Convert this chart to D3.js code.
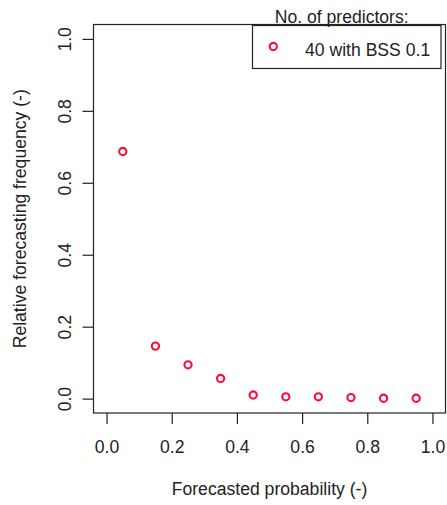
<!DOCTYPE html>
<html>
<head>
<meta charset="utf-8">
<script src="https://cdn.jsdelivr.net/npm/d3@7"></script>
<style>
html,body{margin:0;padding:0;background:#fff;}
svg text{font-family:"Liberation Sans",Arial,Helvetica,sans-serif;fill:#222;}
</style>
</head>
<body>
<svg id="chart" width="447" height="505"></svg>
<script>
// Data
const probabilities = [0.05, 0.15, 0.25, 0.35, 0.45, 0.55, 0.65, 0.75, 0.85, 0.95];
const frequencies  = [0.687, 0.146, 0.094, 0.056, 0.010, 0.005, 0.005, 0.003, 0.001, 0.001];
const xTicks = [0, 0.2, 0.4, 0.6, 0.8, 1.0];
const yTicks = [0, 0.2, 0.4, 0.6, 0.8, 1.0];
const seriesLabel = "40 with BSS 0.1";
const legendTitle = "No. of predictors:";
const xTitle = "Forecasted probability (-)";
const yTitle = "Relative forecasting frequency (-)";

const svg = d3.select("#chart");
const box = {left: 93.5, right: 445.5, top: 24.5, bottom: 413};
const fs = 17.6;
const col = "#ff0a3a";
const ink = "#222";

const x = d3.scaleLinear().domain([-0.04, 1.04]).range([box.left, box.right]);
const y = d3.scaleLinear().domain([-0.04, 1.04]).range([box.bottom, box.top]);

// Axes (R-like: ticks outward, labels)
const xAxis = d3.axisBottom(x).tickValues(xTicks).tickFormat(d3.format(".1f")).tickSizeOuter(0).tickSizeInner(11).tickPadding(15);
const gx = svg.append("g").attr("transform", `translate(0,${box.bottom})`).call(xAxis);
gx.select(".domain").remove();
gx.selectAll(".tick line").attr("stroke", ink).attr("stroke-width", 1.2);
gx.selectAll(".tick text").attr("font-size", fs).attr("fill", ink).attr("dy", null).attr("y", 40);

const yAxis = d3.axisLeft(y).tickValues(yTicks).tickFormat(d3.format(".1f")).tickSizeOuter(0).tickSizeInner(11);
const gy = svg.append("g").attr("transform", `translate(${box.left},0)`).call(yAxis);
gy.select(".domain").remove();
gy.selectAll(".tick line").attr("stroke", ink).attr("stroke-width", 1.2);
gy.selectAll(".tick text")
  .attr("font-size", fs).attr("fill", ink)
  .attr("x", null).attr("dy", null)
  .attr("text-anchor", "middle")
  .attr("transform", `translate(${71 - box.left},0) rotate(-90)`);

// Plot box
svg.append("rect")
  .attr("x", box.left).attr("y", box.top)
  .attr("width", box.right - box.left).attr("height", box.bottom - box.top)
  .attr("fill", "none").attr("stroke", ink).attr("stroke-width", 1.2);

// Points
svg.append("g").selectAll("circle")
  .data(probabilities.map((p, i) => ({p, f: frequencies[i]})))
  .join("circle")
  .attr("cx", d => x(d.p)).attr("cy", d => y(d.f))
  .attr("r", 3.6).attr("fill", "none").attr("stroke", col).attr("stroke-width", 2.1);

// Axis titles
svg.append("text").attr("x", (box.left + box.right) / 2).attr("y", 495)
  .attr("text-anchor", "middle").attr("font-size", fs).text(xTitle);
svg.append("text")
  .attr("transform", `translate(26,${(box.top + box.bottom) / 2}) rotate(-90)`)
  .attr("text-anchor", "middle").attr("font-size", fs).text(yTitle);

// Legend
const lg = svg.append("g");
lg.append("rect").attr("x", 252.5).attr("y", 25.5).attr("width", 188.5).attr("height", 43)
  .attr("fill", "#fff").attr("stroke", ink).attr("stroke-width", 1.2);
lg.append("text").attr("x", 341.7).attr("y", 22.5).attr("text-anchor", "middle")
  .attr("font-size", fs).text(legendTitle);
lg.append("circle").attr("cx", 273.3).attr("cy", 46.5).attr("r", 3.6)
  .attr("fill", "none").attr("stroke", col).attr("stroke-width", 2.1);
lg.append("text").attr("x", 305).attr("y", 56).attr("font-size", fs).text(seriesLabel);
</script>
</body>
</html>
